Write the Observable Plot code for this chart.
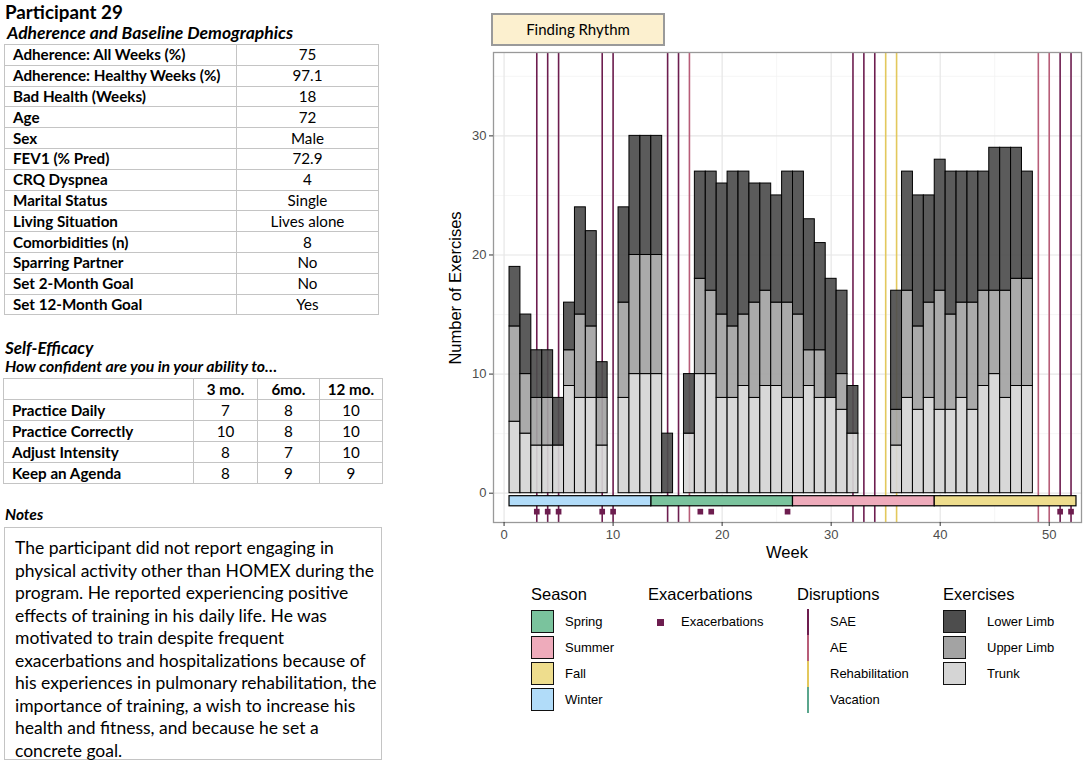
<!DOCTYPE html>
<html><head><meta charset="utf-8">
<script src="https://cdn.jsdelivr.net/npm/d3@7"></script>
<script src="https://cdn.jsdelivr.net/npm/@observablehq/plot@0.6"></script>
<style>
body{margin:0;background:#fff;}
#wrap{position:relative;width:1084px;height:761px;overflow:hidden;font-family:Lato,"Open Sans",sans-serif;color:#000;}
.abs{position:absolute;}
table{border-collapse:collapse;table-layout:fixed;}
td{border:1px solid #c4c4c4;padding:0;white-space:nowrap;overflow:hidden;}
#t1 td{height:19.8px;font-size:15.2px;line-height:19px;}
#t1 td.l{font-weight:bold;padding-left:8px;}
#t1 td.v{text-align:center;}
#t2 td{height:20px;font-size:15.2px;line-height:19px;text-align:center;}
#t2 td.l{font-weight:bold;text-align:left;padding-left:8px;}
#t2 tr.h td{font-weight:bold;}
.hd{font-weight:bold;font-style:italic;font-size:15.5px;white-space:nowrap;}
#notes{left:4px;top:527px;width:376px;height:231px;border:1px solid #c4c4c4;font-size:17.5px;line-height:22.5px;padding:0;}
#notes div{padding-left:10px;white-space:nowrap;}
.lg{font-family:"Liberation Sans",Arial,sans-serif;position:absolute;white-space:nowrap;}
.lt{font-size:16.5px;}
.ll{font-size:13px;}
.sw{position:absolute;width:21px;height:21px;border:1.5px solid #111;}
</style></head>
<body><div id="wrap"></div>
<script>
// ---------- data ----------
const weeks = [1,2,3,4,5,6,7,8,9,10,11,12,13,14,15,16,17,18,19,20,21,22,23,24,25,26,27,28,29,30,31,32,33,34,35,36,37,38,39,40,41,42,43,44,45,46,47,48,49,50,51,52];
const trunk = [6,5,4,4,4,9,8,8,4,0,8,10,10,10,0,0,5,10,10,8,8,9,8,9,9,8,8,9,8,8,7,5,0,0,0,4,8,7,8,7,7,8,7,9,10,8,9,9,0,0,0,0];
const upperLimb = [8,5,4,4,0,3,7,6,4,0,8,10,10,10,0,0,0,8,7,7,6,6,8,8,7,8,7,3,4,0,3,0,0,0,0,3,9,7,8,10,8,8,9,8,7,9,9,9,0,0,0,0];
const lowerLimb = [5,5,4,4,4,4,9,8,3,0,8,10,10,10,5,0,5,9,10,11,13,12,10,9,9,11,12,11,9,10,7,4,0,0,0,10,10,11,9,11,12,11,11,10,12,12,11,9,0,0,0,0];
const exerciseTypes = ["Lower Limb","Upper Limb","Trunk"];
const exerciseColors = ["#4d4d4d","#a3a3a3","#d5d5d5"];
const seasons = ["Spring","Summer","Fall","Winter"];
const seasonColors = ["#7ac39d","#eeabbb","#eedd8d","#b1dcf9"];
const seasonStart = [13.5,26.5,39.5,0.5];
const seasonEnd = [26.5,39.5,52.5,13.5];
const disruptionTypes = ["SAE","AE","Rehabilitation","Vacation"];
const disruptionColors = ["#6d1d4f","#b85d78","#e3c85c","#5ba68d"];
const saeWeeks = [3,4,5,9,10,15,16,32,33,34,51,52];
const aeWeeks = [17,49,50];
const rehabWeeks = [35,36];
const vacationWeeks = [];
const exacerbationWeeks = [3,4,5,9,10,18,19,26,51,52];
const xTicks = [0,10,20,30,40,50];
const xMinor = [5,15,25,35,45];
const yTicks = [0,10,20,30];
const yMinor = [5,15,25,35];

const demoLabels = ["Adherence: All Weeks (%)","Adherence: Healthy Weeks (%)","Bad Health (Weeks)","Age","Sex","FEV1 (% Pred)","CRQ Dyspnea","Marital Status","Living Situation","Comorbidities (n)","Sparring Partner","Set 2-Month Goal","Set 12-Month Goal"];
const demoValues = ["75","97.1","18","72","Male","72.9","4","Single","Lives alone","8","No","No","Yes"];
const efficacyHeader = ["","3 mo.","6mo.","12 mo."];
const efficacyItems = ["Practice Daily","Practice Correctly","Adjust Intensity","Keep an Agenda"];
const efficacy3 = [7,10,8,8];
const efficacy6 = [8,8,7,9];
const efficacy12 = [10,10,10,9];
const notesLines = ["The participant did not report engaging in","physical activity other than HOMEX during the","program. He reported experiencing positive","effects of training in his daily life. He was","motivated to train despite frequent","exacerbations and hospitalizations because of","his experiences in pulmonary rehabilitation, the","importance of training, a wish to increase his","health and fitness, and because he set a","concrete goal."];

// ---------- left panel ----------
const wrap = document.getElementById("wrap");
function add(html){ wrap.insertAdjacentHTML("beforeend", html); }
add(`<div class="abs" style="left:5px;top:0px;font-weight:bold;font-size:18.8px;">Participant 29</div>`);
add(`<div class="abs hd" style="left:7px;top:22px;font-size:17.5px;">Adherence and Baseline Demographics</div>`);
let t1 = `<table id="t1" class="abs" style="left:4px;top:44px;width:375px"><colgroup><col style="width:232px"><col></colgroup>`;
demoLabels.forEach((l,i)=>{ t1 += `<tr><td class="l">${l}</td><td class="v">${demoValues[i]}</td></tr>`; });
add(t1 + `</table>`);
add(`<div class="abs hd" style="left:5px;top:337px;font-size:17px;">Self-Efficacy</div>`);
add(`<div class="abs hd" style="left:5px;top:356px;font-size:15.8px;">How confident are you in your ability to…</div>`);
let t2 = `<table id="t2" class="abs" style="left:3px;top:378px;width:380px"><colgroup><col style="width:190px"><col style="width:64px"><col style="width:62px"><col></colgroup>`;
t2 += `<tr class="h">${efficacyHeader.map(h=>`<td>${h}</td>`).join("")}</tr>`;
efficacyItems.forEach((l,i)=>{ t2 += `<tr><td class="l">${l}</td><td>${efficacy3[i]}</td><td>${efficacy6[i]}</td><td>${efficacy12[i]}</td></tr>`; });
add(t2 + `</table>`);
add(`<div class="abs hd" style="left:5px;top:505px;">Notes</div>`);
add(`<div id="notes" class="abs"><div style="height:9px"></div>${notesLines.map(s=>`<div>${s}</div>`).join("")}</div>`);

// ---------- chart ----------
const barData = [];
weeks.forEach((w,i)=>{
  barData.push({week:w, type:"Trunk", value:trunk[i]});
  barData.push({week:w, type:"Upper Limb", value:upperLimb[i]});
  barData.push({week:w, type:"Lower Limb", value:lowerLimb[i]});
});
const seasonData = seasons.map((s,i)=>({season:s, start:seasonStart[i], end:seasonEnd[i]}));
const disruptionData = [
  ...saeWeeks.map(w=>({week:w,type:"SAE"})),
  ...aeWeeks.map(w=>({week:w,type:"AE"})),
  ...rehabWeeks.map(w=>({week:w,type:"Rehabilitation"})),
  ...vacationWeeks.map(w=>({week:w,type:"Vacation"}))
];
const exacData = exacerbationWeeks.map(w=>({week:w}));

const chart = Plot.plot({
  width:644, height:560,
  marginLeft:53, marginRight:3, marginTop:52, marginBottom:38,
  x:{domain:[-0.97,52.96], axis:null},
  y:{domain:[-2.46,37.0], axis:null},
  color:{domain:[...exerciseTypes,...seasons,...disruptionTypes], range:[...exerciseColors,...seasonColors,...disruptionColors]},
  style:{fontFamily:"'Liberation Sans', Arial, sans-serif", background:"#fff", overflow:"visible"},
  marks:[
    Plot.ruleX(xMinor,{stroke:"#f0f0f0",strokeWidth:0.7}),
    Plot.ruleY(yMinor,{stroke:"#f0f0f0",strokeWidth:0.7}),
    Plot.ruleX(xTicks,{stroke:"#e6e6e6",strokeWidth:1.2}),
    Plot.ruleY(yTicks,{stroke:"#e6e6e6",strokeWidth:1.2}),
    Plot.ruleX(disruptionData,{x:"week",stroke:"type",strokeWidth:1.6}),
    Plot.rectY(barData, Plot.stackY({x1:d=>d.week-0.5, x2:d=>d.week+0.5, y:"value", fill:"type", stroke:"#000", strokeWidth:1, fillOpacity:0.92})),
    Plot.rect(seasonData,{x1:"start",x2:"end",y1:-1.1,y2:-0.25,fill:"season",stroke:"#000",strokeWidth:1.2}),
    Plot.dot(exacData,{x:"week",y:-1.55,symbol:"square",r:3.2,fill:"#6d1d4f"}),
    Plot.frame({stroke:"#999",strokeWidth:1.3}),
    Plot.axisX(xTicks,{tickSize:4,tickPadding:3,fontSize:13,stroke:"#333",fill:"#4d4d4d",label:null}),
    Plot.axisY(yTicks,{tickSize:4,tickPadding:3,fontSize:13,stroke:"#333",fill:"#4d4d4d",label:null})
  ]
});
chart.style.position="absolute"; chart.style.left="440px"; chart.style.top="0px";
wrap.appendChild(chart);

add(`<div class="abs" style="left:491px;top:13px;width:170px;height:29px;background:#fcf0cf;border:2px solid #9a9a9a;font-size:15px;line-height:29px;text-align:center;">Finding Rhythm</div>`);
add(`<div class="lg" style="left:787px;top:552px;transform:translate(-50%,-50%);font-size:16.5px;">Week</div>`);
add(`<div class="lg" style="left:455px;top:288px;transform:translate(-50%,-50%) rotate(-90deg);font-size:16.5px;">Number of Exercises</div>`);

// ---------- legends ----------
const keyY = [622,648,674,700];
add(`<div class="lg lt" style="left:531px;top:585px;">Season</div>`);
seasons.forEach((s,i)=>{
  add(`<div class="sw" style="left:531px;top:${keyY[i]-12}px;background:${seasonColors[i]};"></div>`);
  add(`<div class="lg ll" style="left:565px;top:${keyY[i]-8}px;">${s}</div>`);
});
add(`<div class="lg lt" style="left:648px;top:585px;">Exacerbations</div>`);
add(`<div class="abs" style="left:657px;top:619px;width:7px;height:7px;background:#6d1d4f;"></div>`);
add(`<div class="lg ll" style="left:681px;top:614px;">Exacerbations</div>`);
add(`<div class="lg lt" style="left:797px;top:585px;">Disruptions</div>`);
disruptionTypes.forEach((s,i)=>{
  add(`<div class="abs" style="left:807px;top:${keyY[i]-13}px;width:1.6px;height:26px;background:${disruptionColors[i]};"></div>`);
  add(`<div class="lg ll" style="left:830px;top:${keyY[i]-8}px;">${s}</div>`);
});
add(`<div class="lg lt" style="left:943px;top:585px;">Exercises</div>`);
exerciseTypes.forEach((s,i)=>{
  add(`<div class="sw" style="left:943px;top:${keyY[i]-12}px;background:${exerciseColors[i]};"></div>`);
  add(`<div class="lg ll" style="left:987px;top:${keyY[i]-8}px;">${s}</div>`);
});
</script>
</body></html>
